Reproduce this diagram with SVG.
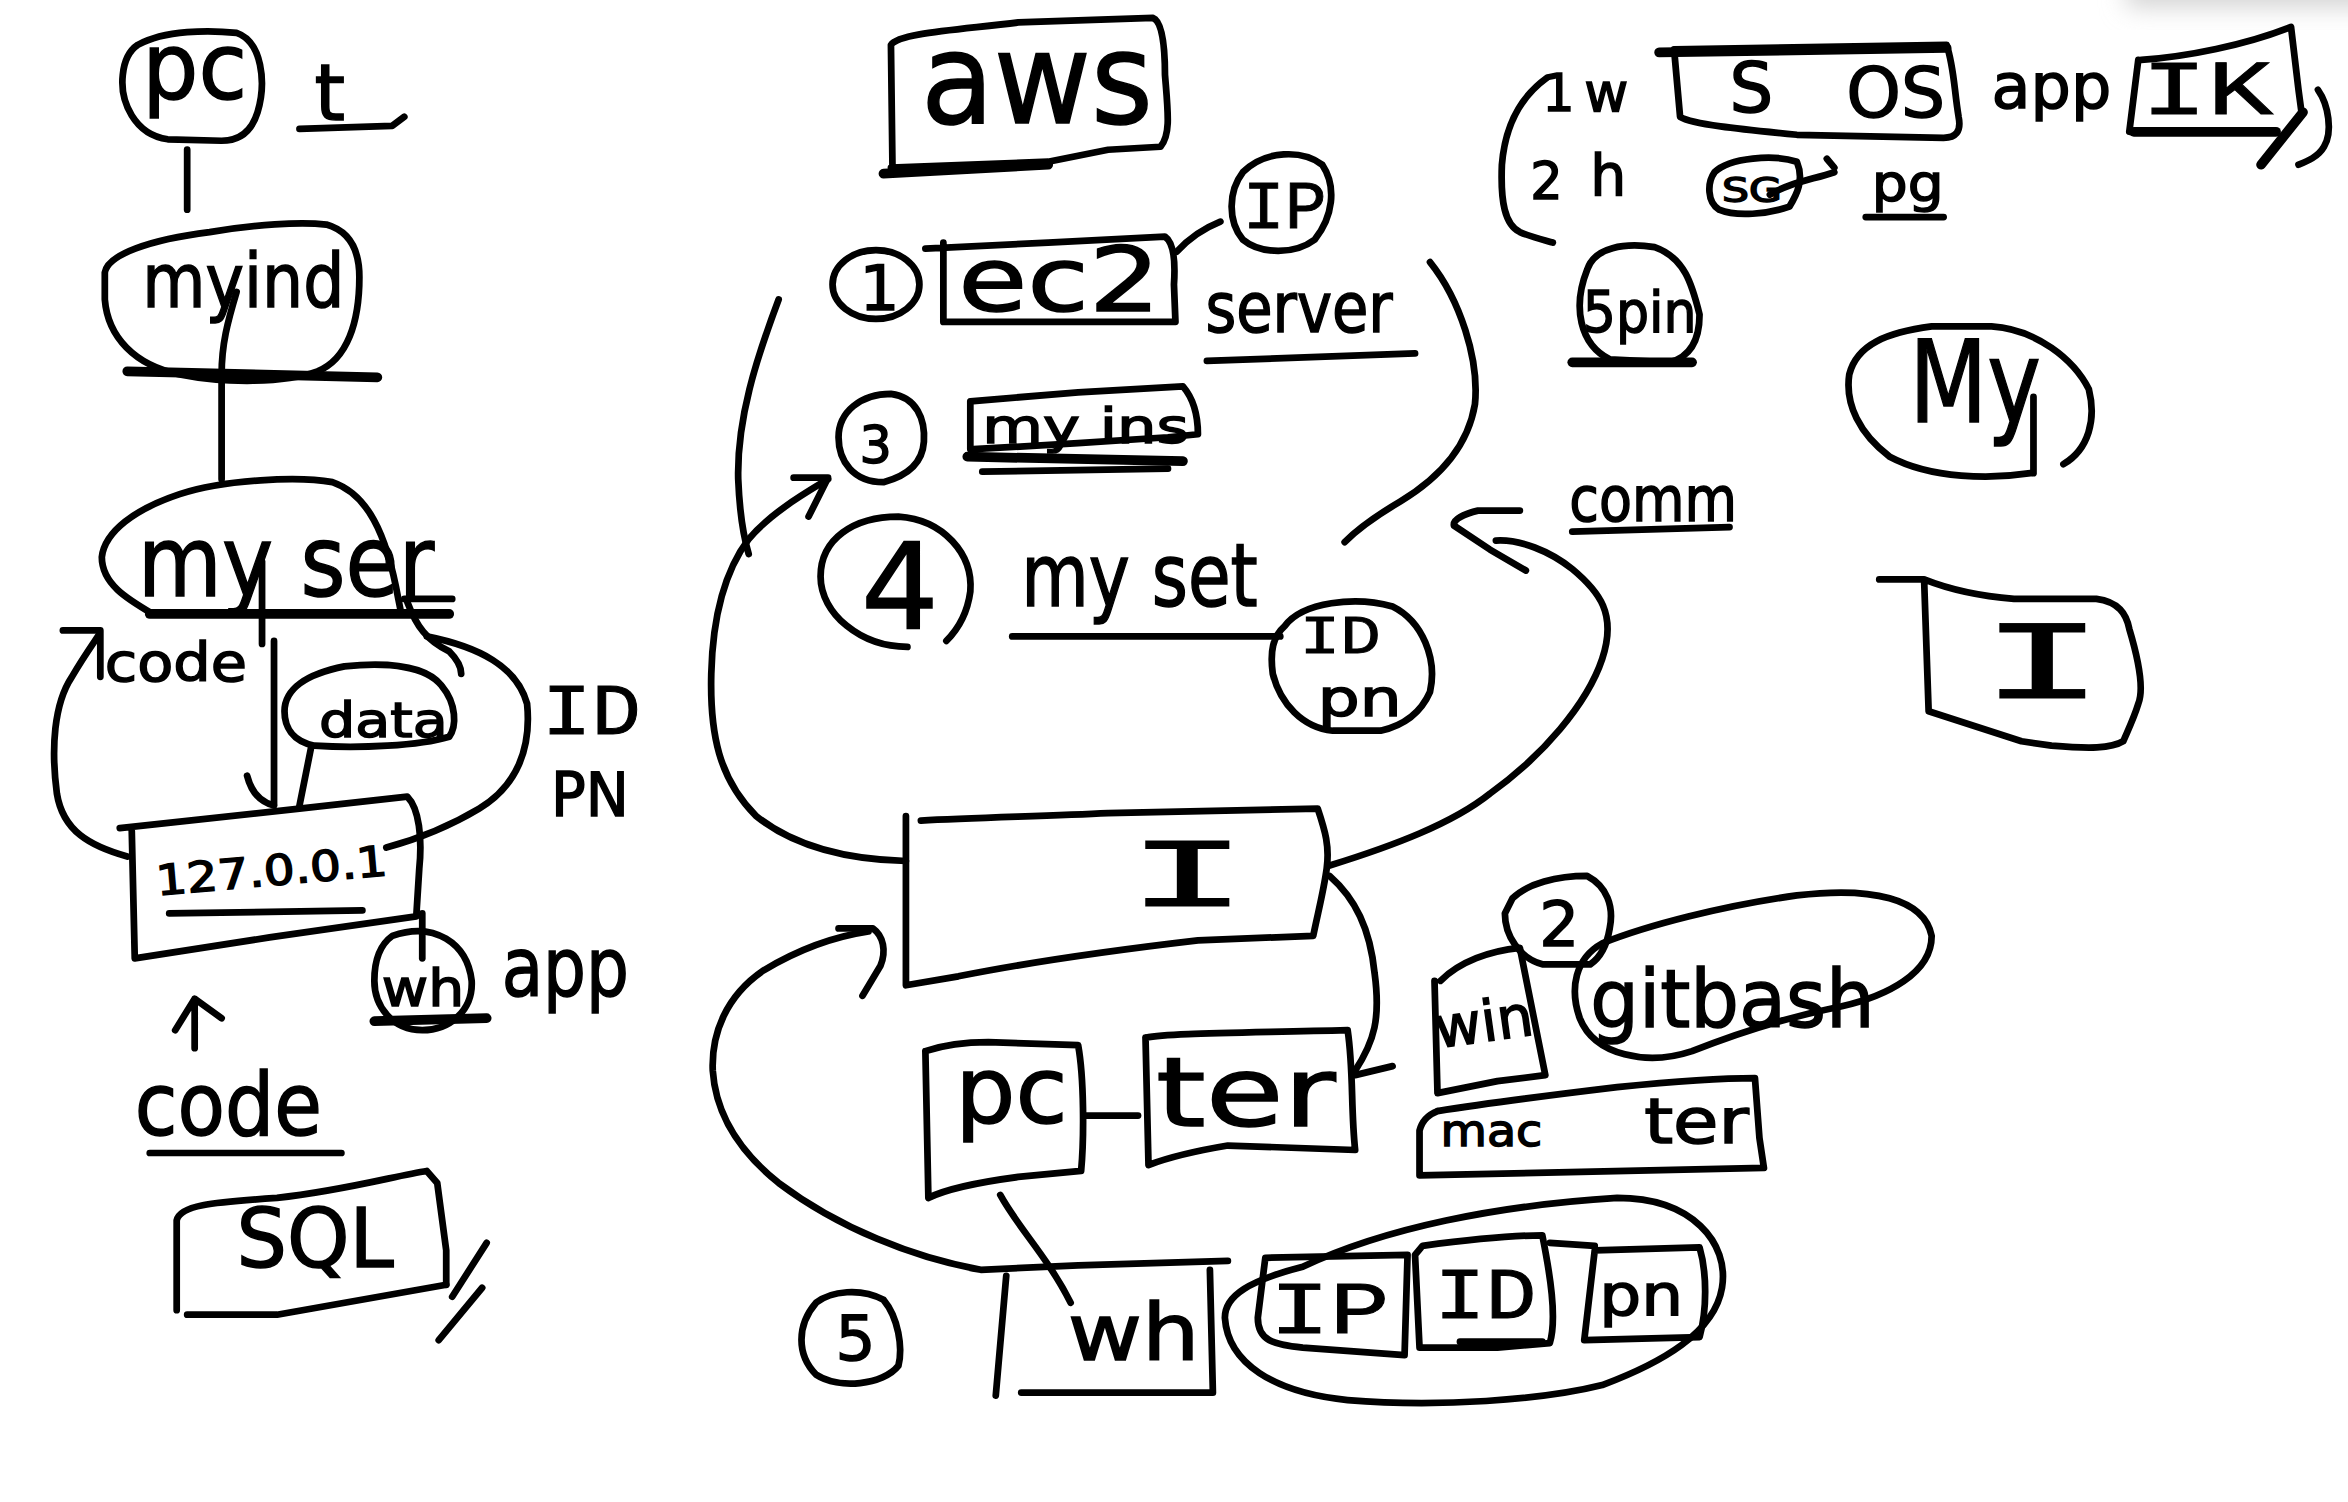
<svg xmlns="http://www.w3.org/2000/svg" width="2348" height="1502" viewBox="0 0 2348 1502">
<style>
.s{fill:none;stroke:#000;stroke-width:4.5;stroke-linecap:round;stroke-linejoin:round}
.b{stroke-width:6.5}
.t{font-family:"DejaVu Sans","Liberation Sans",sans-serif;fill:#000;stroke:#000;stroke-width:1}
.m{font-family:"Liberation Mono","DejaVu Sans Mono",monospace;fill:#000;stroke:#000;stroke-width:0.6}
</style>
<defs>
<filter id="blur" x="-50%" y="-50%" width="200%" height="200%"><feGaussianBlur stdDeviation="8"/></filter>
</defs>
<rect width="2348" height="1502" fill="#fff"/>
<g transform="scale(1.4974)">
<rect x="1420" y="-25" width="200" height="30" fill="#d4d4d4" filter="url(#blur)"/>

<g id="connectors">
<path class="s" d="M 125 100 L 125 140"/>
<path class="s" d="M 158 195 C 152 215 148 230 148 250 L 148 320"/>
<path class="s" d="M 175 375 L 175 430"/>
<path class="s" d="M 270 400 L 302 400"/>
<path class="s" d="M 272 402 C 278 418 285 428 300 435 C 305 440 308 445 308 450"/>
<path class="s" d="M 285 425 C 320 432 345 445 352 470 C 355 500 345 525 320 540 C 300 552 280 560 258 566"/>
<path class="s" d="M 85 572 C 60 565 42 555 38 530 C 34 500 36 470 48 452 C 55 440 62 430 66 424"/>
<path class="s" d="M 42 421 L 67 421 L 67 452"/>
<path class="s" d="M 183 428 L 183 537"/>
<path class="s" d="M 165 518 C 168 530 175 536 183 538"/>
<path class="s" d="M 208 498 L 200 538"/>
<path class="s" d="M 282 610 L 282 640"/>
<path class="s" d="M 130 700 L 130 667 M 117 688 L 130 667 L 148 680"/>
<path class="s" d="M 786 168 C 795 158 805 152 815 148"/>
<path class="s" d="M 520 200 C 505 240 492 280 493 320 C 494 345 497 360 500 370"/>
<path class="s" d="M 553 320 C 540 328 515 342 500 360 C 485 380 476 410 475 450 C 474 490 480 520 505 545 C 530 565 565 574 605 575"/>
<path class="s" d="M 530 319 L 553 319 L 540 345"/>
<path class="s" d="M 955 175 C 975 200 988 240 985 270 C 980 300 960 320 935 335 C 918 345 905 355 898 362"/>
<path class="s" d="M 888 578 C 930 565 970 550 995 530 C 1030 505 1060 470 1070 440 C 1080 410 1068 395 1050 380 C 1035 368 1015 360 999 361"/>
<path class="s" d="M 1015 341 L 987 341 C 978 343 970 347 971 351 L 995 367 L 1019 381"/>
<path class="s" d="M 888 585 C 905 600 915 620 918 650 C 922 680 918 695 905 715"/>
<path class="s" d="M 820 842 L 720 845 L 655 848 C 610 840 560 820 520 790 C 495 770 478 745 476 715 C 475 690 485 665 510 648 C 535 633 560 625 580 622"/>
<path class="s" d="M 560 620 L 583 620 C 590 625 592 635 588 645 L 576 665"/>
<path class="s" d="M 725 745 L 760 745"/>
<path class="s" d="M 905 718 L 930 712"/>
<path class="s" d="M 668 798 C 680 820 700 840 715 870"/>
<path class="s" d="M 1035 830 L 1065 832"/>
</g>

<g id="pc-left">
<path class="s" d="M 92 30 C 110 20 140 20 158 22 C 175 28 178 55 172 75 C 168 88 160 94 148 94 L 112 93 C 90 90 80 68 82 50 C 83 40 86 34 92 30 Z"/>
<text class="t" x="95" y="66" font-size="62" textLength="70" lengthAdjust="spacingAndGlyphs">pc</text>
</g>
<g id="t-mark">
<text class="t" x="210" y="80" font-size="52">t</text>
<path class="s" d="M 200 86 L 262 84 L 270 78"/>
</g>
<g id="myins-left">
<path class="s" d="M 70 182 C 72 170 100 160 140 155 C 170 150 200 148 218 150 C 232 154 240 165 240 185 C 240 215 232 240 212 248 C 190 256 150 256 120 250 C 90 244 72 225 70 200 Z"/>
<text class="t" x="95" y="205" font-size="50" textLength="135" lengthAdjust="spacingAndGlyphs">myind</text>
<path class="s b" d="M 85 248 L 252 252"/>
</g>
<g id="myser-left">
<path class="s" d="M 102 410 C 85 400 68 390 68 372 C 70 355 90 340 120 330 C 150 320 200 318 222 322 C 245 330 258 355 266 400 L 268 410"/>
<path class="s b" d="M 100 410 L 300 410"/>
<text class="t" x="92" y="398" font-size="66" textLength="198" lengthAdjust="spacingAndGlyphs">my ser</text>
</g>
<g id="code-label">
<text class="t" x="70" y="455" font-size="36" textLength="95" lengthAdjust="spacingAndGlyphs">code</text>
</g>
<g id="data-node">
<path class="s" d="M 190 475 C 190 460 205 450 230 445 C 260 442 285 445 295 458 C 305 470 305 485 300 492 C 280 498 240 500 210 498 C 195 495 190 485 190 475 Z"/>
<text class="t" x="213" y="492" font-size="32" textLength="86" lengthAdjust="spacingAndGlyphs">data</text>
</g>
<g id="idpn-left">
<text class="m" x="362" y="490" font-size="48" textLength="66" lengthAdjust="spacingAndGlyphs">ID</text>
<text class="t" x="368" y="545" font-size="40" textLength="52" lengthAdjust="spacingAndGlyphs">PN</text>
</g>
<g id="localhost-box">
<path class="s" d="M 80 553 L 200 540 L 272 532 C 280 540 282 560 280 580 L 278 612 L 180 626 L 90 640 L 88 555"/>
<text class="t" x="105" y="598" font-size="28" textLength="155" lengthAdjust="spacingAndGlyphs" transform="rotate(-5 105 598)">127.0.0.1</text>
<path class="s" d="M 113 610 L 242 608"/>
</g>
<g id="wh-left">
<path class="s" d="M 262 625 C 290 615 312 630 315 655 C 316 675 300 688 282 688 C 262 688 250 672 250 655 C 250 640 255 630 262 625 Z"/>
<text class="t" x="255" y="672" font-size="34" textLength="55" lengthAdjust="spacingAndGlyphs">wh</text>
<path class="s b" d="M 250 682 L 325 680"/>
<text class="t" x="335" y="665" font-size="55" textLength="85" lengthAdjust="spacingAndGlyphs">app</text>
</g>
<g id="code2">
<text class="t" x="90" y="758" font-size="58" textLength="125" lengthAdjust="spacingAndGlyphs">code</text>
<path class="s" d="M 100 770 L 228 770"/>
</g>
<g id="sql-box">
<path class="s" d="M 118 875 L 118 815 C 120 805 140 803 185 800 C 230 795 265 785 285 782 L 292 790 L 298 835 L 298 858"/>
<path class="s" d="M 125 878 L 185 878 L 298 858"/>
<text class="t" x="158" y="846" font-size="55" textLength="105" lengthAdjust="spacingAndGlyphs">SQL</text>
<path class="s" d="M 302 866 L 325 830 M 293 895 L 322 860"/>
</g>

<g id="aws-box">
<path class="s" d="M 596 110 L 595 30 C 600 22 640 20 680 15 L 770 12 C 776 14 778 30 778 50 C 780 75 782 90 775 98 L 740 100 L 700 108 L 595 112"/>
<path class="s b" d="M 590 116 L 700 110"/>
<text class="t" x="615" y="82" font-size="84" textLength="155" lengthAdjust="spacingAndGlyphs">aws</text>
</g>
<g id="step1">
<ellipse class="s" cx="585" cy="190" rx="29" ry="23"/>
<text class="t" x="574" y="207" font-size="42">1</text>
</g>
<g id="ec2-box">
<path class="s" d="M 618 166 L 700 162 L 778 158 C 784 162 785 175 784 190 L 785 215 L 630 215 L 630 162"/>
<text class="t" x="640" y="208" font-size="60" textLength="135" lengthAdjust="spacingAndGlyphs">ec2</text>
</g>
<g id="ip-circle">
<path class="s" d="M 830 115 C 845 100 870 100 883 110 C 893 125 890 145 878 160 C 865 170 842 170 830 160 C 820 148 820 128 830 115 Z"/>
<text class="m" x="830" y="152" font-size="46" textLength="56" lengthAdjust="spacingAndGlyphs">IP</text>
</g>
<g id="server-label">
<text class="t" x="805" y="222" font-size="46" textLength="125" lengthAdjust="spacingAndGlyphs">server</text>
<path class="s" d="M 806 241 L 945 236"/>
</g>
<g id="step3">
<path class="s" d="M 560 292 C 560 275 575 263 595 263 C 612 265 618 280 617 295 C 616 310 605 318 590 322 C 570 322 560 308 560 292 Z"/>
<text class="t" x="574" y="309" font-size="34">3</text>
</g>
<g id="myins-box">
<path class="s" d="M 648 300 L 648 268 L 720 262 L 790 258 C 796 265 800 275 800 290 L 780 292 L 720 296 L 650 300"/>
<text class="t" x="656" y="296" font-size="32" textLength="138" lengthAdjust="spacingAndGlyphs">my ins</text>
<path class="s b" d="M 646 305 L 790 308"/>
<path class="s" d="M 656 315 L 780 313"/>
</g>
<g id="step4">
<path class="s" d="M 606 432 C 575 432 548 410 548 385 C 548 360 570 345 600 345 C 630 347 650 370 648 395 C 646 410 640 420 632 428"/>
<text class="t" x="575" y="420" font-size="80" textLength="52" lengthAdjust="spacingAndGlyphs">4</text>
</g>
<g id="myset">
<text class="t" x="682" y="405" font-size="58" textLength="158" lengthAdjust="spacingAndGlyphs">my set</text>
<path class="s" d="M 676 425 L 855 425"/>
</g>
<g id="idpn-circle">
<path class="s" d="M 858 418 C 870 402 905 398 930 405 C 950 415 960 440 955 462 C 948 478 935 485 922 488 L 890 488 C 870 486 855 470 850 450 C 848 435 850 425 858 418 Z"/>
<text class="m" x="868" y="436" font-size="36" textLength="54" lengthAdjust="spacingAndGlyphs">ID</text>
<text class="t" x="880" y="478" font-size="34" textLength="56" lengthAdjust="spacingAndGlyphs">pn</text>
</g>
<g id="instance-box">
<path class="s" d="M 615 548 C 650 546 700 545 740 543 L 880 540 C 885 555 888 565 886 580 C 884 595 880 610 877 625 L 800 628 C 740 635 690 642 640 652 L 605 658 L 605 545"/>
<text class="m" x="752" y="605" font-size="66" textLength="82" lengthAdjust="spacingAndGlyphs">I</text>
</g>
<g id="pc-box">
<path class="s" d="M 618 702 C 630 698 645 696 660 696 L 720 698 C 724 720 724 760 722 782 L 680 786 C 650 790 630 795 620 800 L 618 702"/>
<text class="t" x="638" y="750" font-size="62" textLength="75" lengthAdjust="spacingAndGlyphs">pc</text>
</g>
<g id="ter-box">
<path class="s" d="M 765 693 C 780 690 820 690 900 688 C 904 715 902 740 905 768 L 820 765 C 790 770 775 775 767 778 L 765 693"/>
<text class="t" x="772" y="752" font-size="64" textLength="120" lengthAdjust="spacingAndGlyphs">ter</text>
</g>
<g id="step2">
<path class="s" d="M 1010 600 C 1020 590 1040 585 1060 585 C 1073 592 1078 605 1075 620 C 1073 632 1068 640 1062 644 L 1030 644 C 1015 640 1005 625 1005 610 Z"/>
<text class="t" x="1028" y="632" font-size="42">2</text>
</g>
<g id="win-box">
<path class="s" d="M 962 655 C 975 642 995 635 1015 633 L 1032 718 L 1000 722 L 960 730 L 958 655"/>
<text class="t" x="960" y="700" font-size="38" textLength="66" lengthAdjust="spacingAndGlyphs" transform="rotate(-8 960 700)">win</text>
</g>
<g id="gitbash">
<path class="s" d="M 1055 680 C 1048 660 1052 640 1070 630 C 1100 618 1150 605 1200 598 C 1250 592 1285 600 1290 625 C 1290 650 1260 665 1230 672 C 1190 680 1160 690 1130 702 C 1100 712 1065 705 1055 680 Z"/>
<text class="t" x="1062" y="686" font-size="54" textLength="190" lengthAdjust="spacingAndGlyphs">gitbash</text>
</g>
<g id="macter-box">
<path class="s" d="M 960 742 C 985 738 1030 732 1080 726 C 1120 722 1150 720 1172 720 L 1175 760 L 1178 780 L 948 785 L 948 755 C 950 747 955 744 960 742"/>
<text class="t" x="962" y="765" font-size="30" textLength="68" lengthAdjust="spacingAndGlyphs">mac</text>
<text class="t" x="1098" y="763" font-size="42" textLength="70" lengthAdjust="spacingAndGlyphs">ter</text>
</g>
<g id="step5">
<path class="s" d="M 545 870 C 555 862 575 860 590 868 C 600 880 603 900 600 912 C 590 925 560 928 545 918 C 532 905 532 885 545 870 Z"/>
<text class="t" x="558" y="908" font-size="42">5</text>
</g>
<g id="wh-box">
<path class="s" d="M 672 852 L 665 932 M 808 848 L 810 930 L 682 930"/>
<text class="t" x="713" y="908" font-size="52" textLength="88" lengthAdjust="spacingAndGlyphs">wh</text>
</g>
<g id="cred-group">
<path class="s" d="M 870 846 C 925 820 1000 805 1080 800 C 1130 800 1155 830 1150 860 C 1145 890 1110 910 1070 925 C 1030 935 960 940 900 935 C 850 930 820 910 818 880 C 818 865 835 855 870 846 Z"/>
</g>
<g id="ip-box">
<path class="s" d="M 845 840 L 940 838 L 938 905 L 870 900 C 850 898 840 895 840 880 Z"/>
<text class="m" x="848" y="890" font-size="50" textLength="80" lengthAdjust="spacingAndGlyphs">IP</text>
</g>
<g id="id-box">
<path class="s" d="M 945 838 L 950 832 C 980 828 1010 825 1030 825 C 1035 850 1040 880 1035 897 L 1000 900 L 948 900 Z"/>
<text class="m" x="958" y="880" font-size="48" textLength="68" lengthAdjust="spacingAndGlyphs">ID</text>
<path class="s" d="M 975 896 L 1030 896"/>
</g>
<g id="pn-box">
<path class="s" d="M 1065 835 L 1135 833 C 1140 850 1140 875 1135 893 L 1058 895 Z"/>
<text class="t" x="1068" y="878" font-size="38" textLength="56" lengthAdjust="spacingAndGlyphs">pn</text>
</g>

<g id="list-bracket">
<path class="s" d="M 1033 52 C 1015 65 1005 85 1003 110 C 1002 135 1005 150 1015 155 C 1022 158 1030 160 1037 162"/>
<path class="s" d="M 1548 60 C 1555 70 1558 88 1552 98 C 1548 105 1540 108 1535 110"/>
</g>
<g id="row1">
<text class="t" x="1030" y="74" font-size="34">1</text>
<text class="t" x="1058" y="74" font-size="36">w</text>
<path class="s" d="M 1118 33 L 1300 30 C 1305 45 1305 60 1308 78 C 1310 88 1306 92 1298 92 L 1200 90 C 1160 86 1130 83 1122 78 L 1118 33"/>
<path class="s b" d="M 1108 35 L 1300 32"/>
<text class="t" x="1155" y="75" font-size="46">S</text>
<text class="t" x="1233" y="78" font-size="46" textLength="66" lengthAdjust="spacingAndGlyphs">OS</text>
<text class="t" x="1330" y="72" font-size="42" textLength="80" lengthAdjust="spacingAndGlyphs">app</text>
<path class="s" d="M 1430 40 C 1460 38 1500 30 1530 18 L 1535 60 L 1537 75 M 1428 40 L 1422 88"/>
<path class="s b" d="M 1425 88 L 1520 88"/>
<text class="m" x="1430" y="76" font-size="52" textLength="88" lengthAdjust="spacingAndGlyphs">IK</text>
<path class="s b" d="M 1510 110 L 1538 75"/>
</g>
<g id="row2">
<text class="t" x="1022" y="133" font-size="34">2</text>
<text class="t" x="1062" y="130" font-size="38">h</text>
<path class="s" d="M 1145 115 C 1155 105 1185 103 1200 108 C 1205 120 1200 130 1195 138 C 1180 143 1160 145 1148 140 C 1140 135 1140 122 1145 115 Z"/>
<text class="t" x="1150" y="135" font-size="22" textLength="40" lengthAdjust="spacingAndGlyphs">SG</text>
<path class="s" d="M 1182 130 C 1195 122 1210 120 1225 115 M 1220 106 L 1225 112"/>
<text class="t" x="1250" y="134" font-size="34" textLength="48" lengthAdjust="spacingAndGlyphs">pg</text>
<path class="s" d="M 1246 145 L 1298 145"/>
</g>
<g id="5pin">
<path class="s" d="M 1060 180 C 1065 165 1085 162 1105 165 C 1125 172 1130 190 1135 210 C 1135 225 1130 238 1115 242 L 1075 240 C 1055 230 1050 205 1060 180 Z"/>
<text class="t" x="1057" y="222" font-size="38" textLength="76" lengthAdjust="spacingAndGlyphs">5pin</text>
<path class="s b" d="M 1050 242 L 1130 242"/>
</g>
<g id="my-circle">
<path class="s" d="M 1356 316 C 1330 320 1290 320 1262 305 C 1242 290 1232 270 1235 250 C 1240 230 1260 222 1290 218 L 1330 218 C 1360 220 1385 240 1395 260 C 1400 280 1395 300 1378 310"/>
<text class="t" x="1275" y="282" font-size="76" textLength="88" lengthAdjust="spacingAndGlyphs">My</text>
<path class="s" d="M 1358 265 L 1358 316"/>
</g>
<g id="comm-label">
<text class="t" x="1048" y="348" font-size="42" textLength="112" lengthAdjust="spacingAndGlyphs">comm</text>
<path class="s" d="M 1050 355 L 1155 352"/>
</g>
<g id="instance-right">
<path class="s" d="M 1255 387 L 1285 387 C 1300 393 1320 398 1345 400 L 1400 400 C 1415 402 1420 410 1422 420 C 1428 440 1432 460 1428 470 C 1425 480 1420 490 1418 495 C 1410 500 1395 500 1370 498 L 1350 495 L 1288 475 L 1285 388"/>
<text class="m" x="1322" y="466" font-size="76" textLength="84" lengthAdjust="spacingAndGlyphs">I</text>
</g>
</g>
</svg>
